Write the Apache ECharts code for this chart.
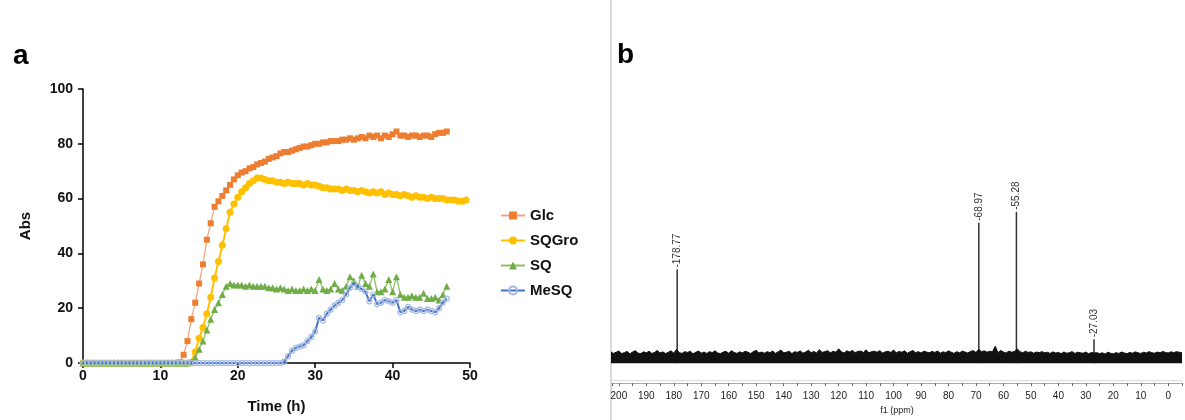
<!DOCTYPE html>
<html><head><meta charset="utf-8">
<script src="https://cdn.jsdelivr.net/npm/echarts@6/dist/echarts.min.js"></script>
<style>html,body{margin:0;padding:0;background:#fff}#c{width:1185px;height:420px}</style>
</head><body><div id="c"></div>
<script>
// ---------- Panel a data ----------
const times = [0,0.5,1,1.5,2,2.5,3,3.5,4,4.5,5,5.5,6,6.5,7,7.5,8,8.5,9,9.5,
  10,10.5,11,11.5,12,12.5,13,13.5,14,14.5,15,15.5,16,16.5,17,17.5,18,18.5,19,19.5,
  20,20.5,21,21.5,22,22.5,23,23.5,24,24.5,25,25.5,26,26.5,27,27.5,28,28.5,29,29.5,
  30,30.5,31,31.5,32,32.5,33,33.5,34,34.5,35,35.5,36,36.5,37,37.5,38,38.5,39,39.5,
  40,40.5,41,41.5,42,42.5,43,43.5,44,44.5,45,45.5,46,46.5,47,47.5,48,48.5,49,49.5];
const glc = [0,0,0,0,0,0,0,0,0,0,0,0,0,0,0,0,0,0,0,0,0,0,0,0,0,0.3,
  3,8,16,22,29,36,45,51,57,59,61,63,65,67,68.5,69.5,70,71,71.5,72.5,73,73.5,74.5,75,
  75.5,76.5,77,77,77.5,78,78.5,79,79,79.5,80,80,80.5,80.5,81,81,81,81.5,81.5,82,
  81.5,82,82.5,82,83,82.5,83,82,83,82.5,83.5,84.5,83,83,82.5,83,83,82.5,83,83,
  82.5,83.5,84,84,84.5];
const sqgro = [0,0,0,0,0,0,0,0,0,0,0,0,0,0,0,0,0,0,0,0,0,0,0,0,0,0,0,0,0.3,
  4,9,13,18,24,31,37,43,49,55,58,60.5,62.5,64,65.5,66.5,67.5,67.5,67,66.5,66.5,
  66,66,65.5,66,65.5,65.5,65.5,65,65.5,65,65,64.5,64,64,63.5,63.5,63.5,63,63.5,63,
  63,62.5,63,62.5,62,62.5,62,62.5,61.5,62,61.5,61.5,61,61.5,61,60.5,61,60.5,60.5,60,
  60.5,60,60,60,59.5,59.5,59.5,59,59,59.5];
const sq = [0,0,0,0,0,0,0,0,0,0,0,0,0,0,0,0,0,0,0,0,0,0,0,0,0,0,0,0,0.3,
  2,5,8,12,16,19.5,22,25,28,29,28.5,28.5,28.5,28,28.5,28,28,28,28,27.5,27.5,
  27,27.5,27,26.5,27,26.5,26.5,27,26.5,27,26.5,30.5,27,26.5,27,29,27,26.5,28,31.5,
  30,28,32,29,28,32.5,26,26,27,30.5,26,31.5,25,24,24,24.5,24,24,25.5,23.5,
  23.5,24,23,25,28];
const mesq = [0,0,0,0,0,0,0,0,0,0,0,0,0,0,0,0,0,0,0,0,0,0,0,0,0,0,0,0,0,0,
  0,0,0,0,0,0,0,0,0,0,0,0,0,0,0,0,0,0,0,0,0,0,
  0.5,2.5,4.5,5.5,6,6.5,8,9.5,11.5,16.5,15.5,18,19.5,21,22,23,25,27.5,
  29,28,27,26,22.5,25,21.5,22,23,22.5,22,23,18.5,19,20.5,19.5,19,19.5,19,19.5,
  19,18.5,20,22,23.5];
const seriesNames = ['Glc','SQGro','SQ','MeSQ'];
const xTicksA = [0,10,20,30,40,50];
const yTicksA = [0,20,40,60,80,100];

// ---------- Panel b data (13C NMR) ----------
const peakPpm = [178.77, 68.97, 55.28, 27.03];
const peakHeight = [47, 70.5, 76, 12];
const noiseStartPpm = 205;   // noise envelope read every 1 ppm from 205 down to -5
const noise = [
  5.2,4.6,5.8,4.9,5.5,6.1,4.8,5.3,5.9,4.7,5.6,6.3,5.0,4.8,5.7,5.2,6.0,4.9,5.4,6.4,
  5.1,5.7,4.8,5.5,6.2,5.0,7.0,5.3,4.9,5.8,5.4,6.0,4.7,5.5,6.1,5.0,5.6,4.9,5.8,5.3,
  6.2,5.1,4.8,5.6,5.9,5.0,6.3,5.4,4.9,5.7,5.2,6.0,5.5,4.8,5.9,6.4,5.1,5.6,5.0,5.8,
  5.3,6.1,4.9,5.7,6.6,5.2,5.5,6.0,4.8,5.8,5.4,6.2,5.0,5.6,6.5,5.3,5.9,5.1,6.8,5.4,
  5.8,6.3,5.2,6.0,5.5,7.2,5.7,5.1,6.2,5.6,6.4,5.3,5.9,6.1,5.4,6.7,5.2,5.8,6.0,5.5,
  6.3,5.1,5.7,6.0,5.4,6.6,5.2,5.9,5.5,6.2,5.0,5.7,6.4,5.3,5.8,5.1,6.0,5.6,5.2,5.9,
  5.4,6.1,5.0,5.7,5.3,6.2,5.5,4.9,5.8,5.2,6.0,5.6,5.1,5.9,6.3,5.4,7.0,5.8,6.2,5.5,
  6.0,5.7,8.5,5.3,6.4,5.6,5.1,6.1,5.5,5.9,7.2,5.8,5.2,6.0,5.4,5.7,5.0,5.6,5.3,5.8,
  5.2,5.5,4.9,5.7,5.1,5.4,4.8,5.6,5.0,5.3,5.8,4.9,5.5,5.2,5.0,5.6,4.7,5.4,5.1,5.3,
  4.8,5.2,4.6,5.5,5.0,4.7,5.3,4.9,5.6,5.1,4.8,5.4,5.0,5.7,5.2,4.9,5.5,5.1,5.8,5.3,
  5.0,5.6,5.2,5.9,5.4,5.1,5.7,5.3,5.8,5.5,5.2];

function pairs(vals){ return vals.map((v,i)=>[times[i], v]); }
const noiseData = noise.map((v,i)=>[noiseStartPpm - i, v]);
const peakData = peakPpm.map((p,i)=>[p, peakHeight[i]]);

const F = 'Liberation Sans, Arial, sans-serif';
const FN = 'Liberation Sans Narrow, Arial Narrow, Liberation Sans, sans-serif';
const chart = echarts.init(document.getElementById('c'), null, {renderer:'canvas'});
const option = {
  animation:false,
  backgroundColor:'#fff',
  title:[
    {text:'a', left:8, top:37, textStyle:{fontFamily:F,fontWeight:'bold',fontSize:28,color:'#000'}},
    {text:'b', left:612, top:36, textStyle:{fontFamily:F,fontWeight:'bold',fontSize:28,color:'#000'}}
  ],
  graphic:[{type:'line', shape:{x1:611,y1:0,x2:611,y2:420}, style:{stroke:'#cfcfcf', lineWidth:1.5}}],
  legend:{
    orient:'vertical', left:495, top:203, itemGap:10, itemWidth:24, itemHeight:10,
    data:seriesNames,
    textStyle:{fontFamily:F,fontWeight:'bold',fontSize:15,color:'#111'}
  },
  grid:[
    {left:83, top:89, width:387, height:274},
    {left:612, top:164, width:578, height:220}
  ],
  xAxis:[
    {gridIndex:0, type:'value', min:xTicksA[0], max:xTicksA[xTicksA.length-1], interval:10,
     name:'Time (h)', nameLocation:'middle', nameGap:36,
     nameTextStyle:{fontFamily:F,fontWeight:'bold',fontSize:15,color:'#111'},
     axisLine:{lineStyle:{color:'#000',width:1.5}},
     axisTick:{length:5,lineStyle:{color:'#000',width:1.5}},
     axisLabel:{fontFamily:F,fontWeight:'bold',fontSize:14,color:'#111',margin:6},
     splitLine:{show:false}},
    {gridIndex:1, type:'value', position:'bottom', inverse:true, min:-5, max:202.5, interval:5,
     name:'f1 (ppm)', nameLocation:'middle', nameGap:21,
     nameTextStyle:{fontFamily:FN,fontSize:9,color:'#222'},
     axisLine:{onZero:false,lineStyle:{color:'#aaa',width:1}},
     axisTick:{length:3,lineStyle:{color:'#666',width:1}},
     axisLabel:{fontFamily:FN,fontSize:10,color:'#222',margin:8,
       formatter:v=> (v%10===0 && v>=0 && v<=200) ? String(v) : ''},
     splitLine:{show:false}},
    {gridIndex:1, type:'value', position:'bottom', offset:-3, inverse:true, min:-5, max:202.5, interval:5,
     axisLine:{onZero:false,lineStyle:{color:'#ddd',width:1}}, axisTick:{show:false}, axisLabel:{show:false}, splitLine:{show:false}}
  ],
  yAxis:[
    {gridIndex:0, type:'value', min:yTicksA[0], max:yTicksA[yTicksA.length-1], interval:20,
     name:'Abs', nameLocation:'middle', nameGap:50,
     nameTextStyle:{fontFamily:F,fontWeight:'bold',fontSize:15,color:'#111'},
     axisLine:{show:true,lineStyle:{color:'#000',width:1.5}},
     axisTick:{show:true,length:5,lineStyle:{color:'#000',width:1.5}},
     axisLabel:{fontFamily:F,fontWeight:'bold',fontSize:14,color:'#111',margin:10},
     splitLine:{show:false}},
    {gridIndex:1, type:'value', min:-10, max:100, show:false, splitLine:{show:false}}
  ],
  series:[
    {name:'Glc', type:'line', xAxisIndex:0, yAxisIndex:0, data:pairs(glc),
     symbol:'rect', symbolSize:6, lineStyle:{color:'#F4A582',width:1.3},
     itemStyle:{color:'#ED7D31'}, z:3},
    {name:'SQGro', type:'line', xAxisIndex:0, yAxisIndex:0, data:pairs(sqgro),
     symbol:'circle', symbolSize:7, lineStyle:{color:'#FFC000',width:2},
     itemStyle:{color:'#FFC000'}, z:4},
    {name:'SQ', type:'line', xAxisIndex:0, yAxisIndex:0, data:pairs(sq),
     symbol:'triangle', symbolSize:7, lineStyle:{color:'#8CBF6A',width:1.3},
     itemStyle:{color:'#70AD47'}, z:5},
    {name:'MeSQ', type:'line', xAxisIndex:0, yAxisIndex:0, data:pairs(mesq),
     symbol:'circle', symbolSize:5, lineStyle:{color:'#4472C4',width:2},
     itemStyle:{color:'rgba(255,255,255,0)', borderColor:'#A3B9E3', borderWidth:1.2}, z:6},
    {name:'noise', type:'line', xAxisIndex:1, yAxisIndex:1, data:noiseData,
     symbol:'none', lineStyle:{color:'#111',width:1}, areaStyle:{color:'#111',opacity:1}},
    {name:'peaks', type:'bar', xAxisIndex:1, yAxisIndex:1, data:peakData,
     barWidth:1.5, itemStyle:{color:'#333'},
     label:{show:true, position:'top', rotate:90, align:'left', verticalAlign:'middle', distance:2,
       fontFamily:FN, fontSize:10, color:'#333',
       formatter:p=>'-'+p.value[0].toFixed(2)}}
  ]
};
chart.setOption(option);
</script></body></html>
